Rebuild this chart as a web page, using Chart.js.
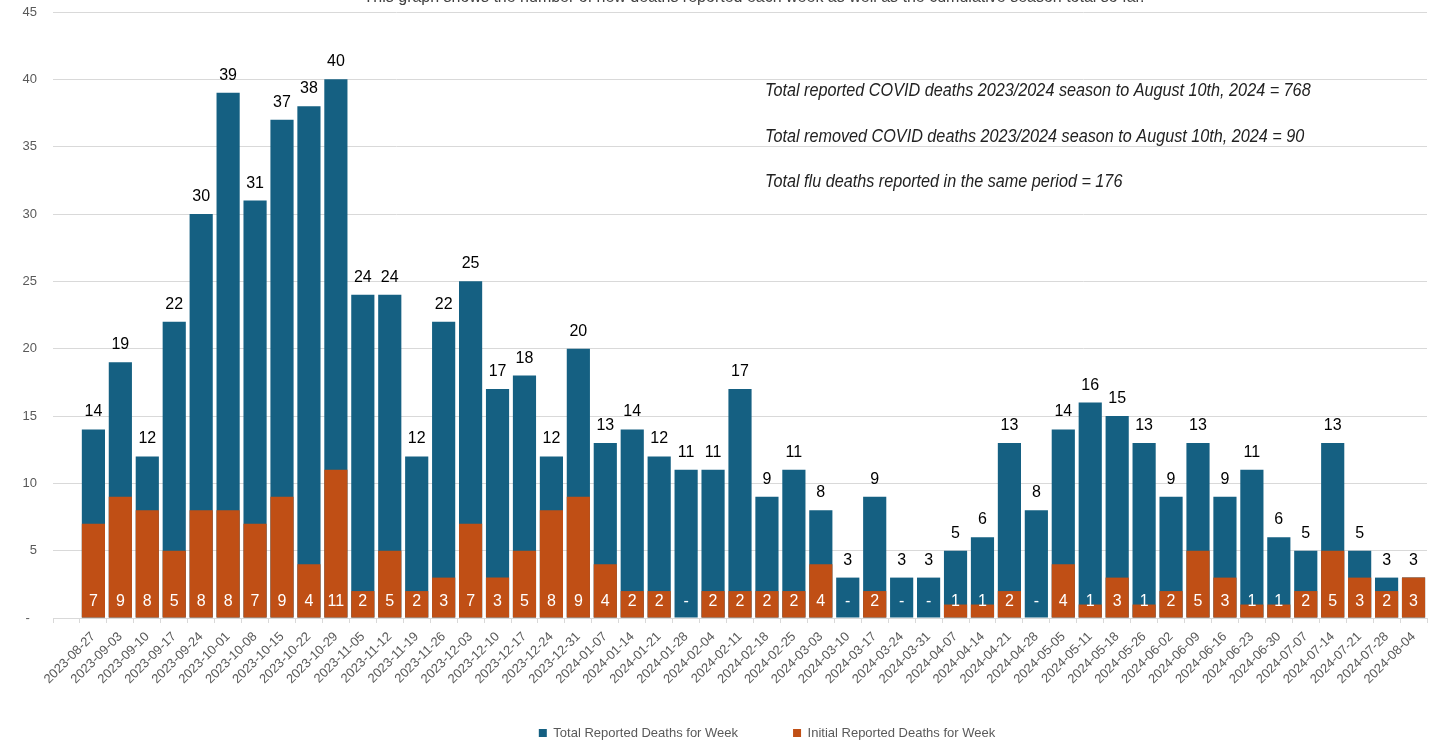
<!DOCTYPE html>
<html><head><meta charset="utf-8">
<script src="https://cdn.jsdelivr.net/npm/chart.js@4/dist/chart.umd.min.js"></script>
<style>html,body{margin:0;padding:0;background:#fff;overflow:hidden}</style>
</head><body>
<canvas id="c" width="1435" height="741" style="width:1435px;height:741px;display:block"></canvas>
<script>
const weeks = ['', '2023-08-27','2023-09-03','2023-09-10','2023-09-17','2023-09-24','2023-10-01','2023-10-08','2023-10-15','2023-10-22','2023-10-29',
  '2023-11-05','2023-11-12','2023-11-19','2023-11-26','2023-12-03','2023-12-10','2023-12-17','2023-12-24','2023-12-31','2024-01-07',
  '2024-01-14','2024-01-21','2024-01-28','2024-02-04','2024-02-11','2024-02-18','2024-02-25','2024-03-03','2024-03-10','2024-03-17',
  '2024-03-24','2024-03-31','2024-04-07','2024-04-14','2024-04-21','2024-04-28','2024-05-05','2024-05-11','2024-05-18','2024-05-26',
  '2024-06-02','2024-06-09','2024-06-16','2024-06-23','2024-06-30','2024-07-07','2024-07-14','2024-07-21','2024-07-28','2024-08-04'];
const totalDeaths = [null, 14,19,12,22,30,39,31,37,38,40, 24,24,12,22,25,17,18,12,20,13, 14,12,11,11,17,9,11,8,3,9, 3,3,5,6,13,8,14,16,15,13, 9,13,9,11,6,5,13,5,3,3];
const initialDeaths = [null, 7,9,8,5,8,8,7,9,4,11, 2,5,2,3,7,3,5,8,9,4, 2,2,0,2,2,2,2,4,0,2, 0,0,1,1,2,0,4,1,3,1, 2,5,3,1,1,2,5,3,2,3];
const seriesNames = ['Total Reported Deaths for Week', 'Initial Reported Deaths for Week'];
const yMax = 45, yStep = 5;
const titleText = 'This graph shows the number of new deaths reported each week as well as the cumulative season total so far.';
const notes = [
  'Total reported COVID deaths 2023/2024 season to August 10th, 2024 = 768',
  'Total removed COVID deaths 2023/2024 season to August 10th, 2024 = 90',
  'Total flu deaths reported in the same period = 176'
];

const FONT = '"Liberation Sans", Arial, sans-serif';
const BLUE = '#156082', ORANGE = '#C04F15';

const labelPlugin = {
  id: 'valueLabels',
  afterLayout(chart) {
    const lg = chart.legend;
    if (lg) { lg.top -= 20.5; lg.left += 27; lg.right += 27; }
  },
  afterDatasetsDraw(chart) {
    const ctx = chart.ctx;
    const tMeta = chart.getDatasetMeta(0), iMeta = chart.getDatasetMeta(1);
    ctx.save();
    ctx.textAlign = 'center';
    ctx.textBaseline = 'alphabetic';
    ctx.font = '16px ' + FONT;
    tMeta.data.forEach((bar, i) => {
      const v = totalDeaths[i];
      if (v == null) return;
      ctx.fillStyle = '#000';
      ctx.fillText(String(v), bar.x, bar.y - 13);
      const iv = initialDeaths[i];
      const ib = iMeta.data[i];
      ctx.fillStyle = '#fff';
      ctx.fillText(iv === 0 ? '-' : String(iv), ib.x, ib.base - 12);
    });
    ctx.restore();
  },
  afterDraw(chart) {
    const ctx = chart.ctx, a = chart.chartArea;
    ctx.save();
    ctx.fillStyle = '#222';
    ctx.textAlign = 'left';
    ctx.textBaseline = 'middle';
    ctx.font = 'italic 18px "Liberation Sans Narrow", "Liberation Sans", Arial, sans-serif';
    notes.forEach((t, k) => {
      ctx.save();
      ctx.translate(a.left + 712, a.top + 79 + k * 45.5);
      ctx.scale(0.9, 1);
      ctx.fillText(t, 0, 0);
      ctx.restore();
    });
    ctx.textAlign = 'center';
    ctx.textBaseline = 'alphabetic';
    ctx.fillStyle = '#404040';
    ctx.font = '16px ' + FONT;
    ctx.fillText(titleText, 754, 2);
    ctx.restore();
  }
};

new Chart(document.getElementById('c'), {
  type: 'bar',
  data: {
    labels: weeks,
    datasets: [
      { label: seriesNames[0], data: totalDeaths, backgroundColor: BLUE, order: 1, grouped: false,
        barPercentage: 0.86, categoryPercentage: 1.0 },
      { label: seriesNames[1], data: initialDeaths, backgroundColor: ORANGE, order: 0, grouped: false,
        barPercentage: 0.86, categoryPercentage: 1.0 }
    ]
  },
  options: {
    responsive: false,
    animation: false,
    layout: { padding: { top: 12, right: 8, left: 0, bottom: 0 } },
    plugins: {
      tooltip: { enabled: false },
      title: { display: false },
      legend: {
        position: 'bottom',
        fullSize: false,
        maxHeight: 49,
        labels: {
          boxWidth: 8, boxHeight: 8, padding: 55,
          color: '#595959', font: { size: 13, family: FONT },
          sort: (a, b) => a.datasetIndex - b.datasetIndex
        }
      }
    },
    scales: {
      x: {
        grid: { display: true, drawOnChartArea: false, drawTicks: true, tickLength: 5, color: '#d9d9d9', offset: true },
        border: { color: '#d9d9d9' },
        ticks: { maxRotation: 45, minRotation: 45, autoSkip: false, color: '#595959', font: { size: 13, family: FONT }, padding: 6 },
        afterFit(s) { s.height = 74; }
      },
      y: {
        min: 0, max: yMax,
        grid: { color: '#d9d9d9', drawTicks: true, tickLength: 16, tickColor: 'rgba(0,0,0,0)' },
        border: { display: false },
        ticks: { stepSize: yStep, padding: 0, color: '#595959', font: { size: 13, family: FONT },
          callback: v => v === 0 ? '-  ' : String(v) },
        afterFit(s) { s.width = 53; }
      }
    }
  },
  plugins: [labelPlugin]
});
</script>
</body></html>
